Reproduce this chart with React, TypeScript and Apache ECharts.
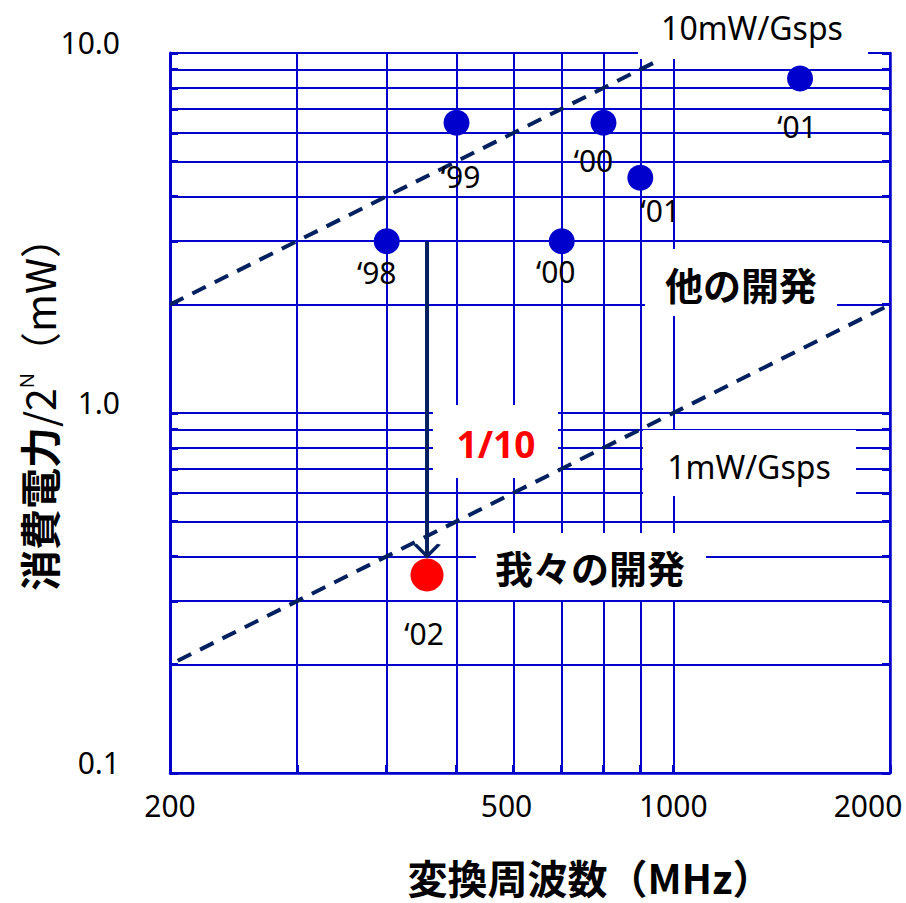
import React, { useEffect, useRef } from 'react';
import * as echarts from 'echarts';

// ---- data ----
const xGridValues = [200, 300, 400, 500, 600, 700, 800, 900, 1000, 2000];
const xLabelValues = [200, 500, 1000, 2000];
const yGridValues = [0.1, 0.2, 0.3, 0.4, 0.5, 0.6, 0.7, 0.8, 0.9, 1, 2, 3, 4, 5, 6, 7, 8, 9, 10];
const yLabelValues = [0.1, 1, 10];

const otherNames = ['‘98', '‘99', '‘00', '‘00', '‘01', '‘01'];
const otherFreq = [400, 500, 700, 800, 900, 1500];
const otherPower = [3.0, 6.4, 3.0, 6.4, 4.5, 8.5];

const oursNames = ['‘02'];
const oursFreq = [455];
const oursPower = [0.355];

const line10Freq = [200, 950];
const line10Power = [2.0, 9.5];
const line1Freq = [205, 2000];
const line1Power = [0.205, 2.0];
const arrowFreq = [455, 455];
const arrowPower = [3.0, 0.4];

// ---- styles (label offsets in px) ----
const otherLabelOffsets = [[-10, 31], [4, 54], [-6, 30], [-10, 38], [20, 33], [-3, 48]];
const oursLabelOffsets = [[-3, 59]];

const BLUE = '#0000CC';
const NAVY = '#002060';
const LATIN = '"Noto Sans", "Noto Sans CJK JP", sans-serif';
const CJK = '"Noto Sans CJK JP", "Noto Sans", sans-serif';

export default function App() {
  const ref = useRef<HTMLDivElement>(null);

  useEffect(() => {
    if (!ref.current) return;
    const chart = echarts.init(ref.current, undefined, { renderer: 'svg' });

    const tickLabel = { fontSize: 30, fontFamily: LATIN, color: '#000' };

    const option: any = {
      animation: false,
      backgroundColor: '#ffffff',
      grid: { left: 170, top: 53, width: 720, height: 720, containLabel: false, outerBoundsMode: 'none' },
      xAxis: {
        type: 'log',
        logBase: 10,
        min: 200,
        max: 2000,
        axisLine: { show: true, lineStyle: { color: BLUE, width: 2.5 } },
        axisTick: { show: true, inside: true, length: 8, customValues: xGridValues, lineStyle: { color: BLUE, width: 3 } },
        splitLine: { show: true, lineStyle: { color: BLUE, width: 2 } },
        minorTick: { show: false },
        minorSplitLine: { show: false },
        axisLabel: {
          customValues: xLabelValues,
          margin: 17,
          ...tickLabel,
          lineHeight: 30,
          formatter: (v: number) => (v === 500 ? '{r|500}' : v === 2000 ? '{l|2000}' : String(v)),
          rich: {
            r: { ...tickLabel, lineHeight: 30, padding: [0, 0, 0, 100] },
            l: { ...tickLabel, lineHeight: 30, padding: [0, 44, 0, 0] },
          },
        },
      },
      yAxis: [
        {
          type: 'log',
          logBase: 10,
          min: 0.1,
          max: 10,
          axisLine: { show: true, lineStyle: { color: BLUE, width: 3 } },
          axisTick: { show: true, inside: true, length: 8, customValues: yGridValues, lineStyle: { color: BLUE, width: 3 } },
          splitLine: { show: true, lineStyle: { color: BLUE, width: 2 } },
          minorTick: { show: false },
          minorSplitLine: { show: false },
          axisLabel: {
            customValues: yLabelValues,
            margin: 50,
            ...tickLabel,
            verticalAlign: 'bottom',
            lineHeight: 22,
            formatter: (v: number) => v.toFixed(1),
          },
        },
        {
          type: 'log',
          logBase: 10,
          min: 0.1,
          max: 10,
          position: 'right',
          axisLine: { show: true, lineStyle: { color: BLUE, width: 2.5 } },
          axisTick: { show: true, inside: true, length: 8, customValues: yGridValues, lineStyle: { color: BLUE, width: 3 } },
          splitLine: { show: false },
          axisLabel: { show: false },
        },
      ],
      graphic: [
        { type: 'rect', z: 1, shape: { x: 638, y: 0, width: 230, height: 59 }, style: { fill: '#fff' } },
        { type: 'rect', z: 1, shape: { x: 645, y: 249, width: 192, height: 67 }, style: { fill: '#fff' } },
        { type: 'rect', z: 1, shape: { x: 643, y: 430, width: 213, height: 66 }, style: { fill: '#fff' } },
        { type: 'rect', z: 1, shape: { x: 476, y: 533, width: 230, height: 67 }, style: { fill: '#fff' } },
        { type: 'rect', z: 1, shape: { x: 433, y: 405, width: 125, height: 73 }, style: { fill: '#fff' } },
        {
          type: 'text', z: 1, x: 38, y: 404, rotation: Math.PI / 2,
          style: {
            text: '{b|消費電力}{r|/2}{n|N}{r|（mW）}',
            align: 'center',
            verticalAlign: 'middle',
            fill: '#000',
            rich: {
              b: { fontSize: 41, fontWeight: 'bold', fontFamily: CJK, fill: '#000', lineHeight: 44 },
              r: { fontSize: 41, fontWeight: 'normal', fontFamily: CJK, fill: '#000', lineHeight: 44 },
              n: { fontSize: 20, fontWeight: 'normal', fontFamily: LATIN, fill: '#000', lineHeight: 20, verticalAlign: 'top' },
            },
          },
        },
        {
          type: 'text', z: 1, x: 590, y: 877,
          style: {
            text: '変換周波数（MHz）',
            fontSize: 40, fontWeight: 'bold', fontFamily: CJK, fill: '#000', lineHeight: 40,
            align: 'center', verticalAlign: 'middle',
          },
        },
        {
          type: 'text', z: 1, x: 752, y: 27,
          style: { text: '10mW/Gsps', fontSize: 32, fontFamily: LATIN, fill: '#000', align: 'center', verticalAlign: 'middle' },
        },
        {
          type: 'text', z: 1, x: 741, y: 283,
          style: { text: '他の開発', fontSize: 38, fontWeight: 'bold', fontFamily: CJK, fill: '#000', align: 'center', verticalAlign: 'middle' },
        },
        {
          type: 'text', z: 1, x: 749, y: 466,
          style: { text: '1mW/Gsps', fontSize: 32, fontFamily: LATIN, fill: '#000', align: 'center', verticalAlign: 'middle' },
        },
        {
          type: 'text', z: 1, x: 590, y: 566,
          style: { text: '我々の開発', fontSize: 38, fontWeight: 'bold', fontFamily: CJK, fill: '#000', align: 'center', verticalAlign: 'middle' },
        },
        {
          type: 'text', z: 1, x: 496, y: 443,
          style: { text: '1/10', fontSize: 37, fontWeight: 'bold', fontFamily: LATIN, fill: '#FF0000', align: 'center', verticalAlign: 'middle' },
        },
      ],
      series: [
        {
          name: '10mW/Gsps',
          type: 'line',
          z: 3,
          symbol: 'none',
          data: line10Freq.map((f, i) => [f, line10Power[i]]),
          lineStyle: { color: NAVY, width: 4, type: [15, 10] },
        },
        {
          name: '1mW/Gsps',
          type: 'line',
          z: 3,
          symbol: 'none',
          data: line1Freq.map((f, i) => [f, line1Power[i]]),
          lineStyle: { color: NAVY, width: 4, type: [15, 10] },
        },
        {
          name: 'arrow',
          type: 'line',
          z: 4,
          showSymbol: true,
          showAllSymbol: true,
          data: arrowFreq.map((f, i) =>
            i === 0
              ? { value: [f, arrowPower[i]], symbol: 'none' }
              : {
                  value: [f, arrowPower[i]],
                  symbol: 'path://M0,0L12,12L24,0',
                  symbolSize: [24, 12],
                  symbolOffset: [0, -6],
                  itemStyle: { color: 'rgba(0,0,0,0)', borderColor: NAVY, borderWidth: 3 },
                }
          ),
          lineStyle: { color: NAVY, width: 4 },
        },
        {
          name: '他の開発',
          type: 'scatter',
          z: 5,
          symbolSize: 26,
          itemStyle: { color: BLUE, opacity: 1 },
          label: { show: true, position: 'inside', formatter: '{b}', ...tickLabel },
          data: otherFreq.map((f, i) => ({
            name: otherNames[i],
            value: [f, otherPower[i]],
            label: { offset: otherLabelOffsets[i] },
          })),
        },
        {
          name: '我々の開発',
          type: 'scatter',
          z: 5,
          symbolSize: 33,
          itemStyle: { color: '#FF0000', opacity: 1 },
          label: { show: true, position: 'inside', formatter: '{b}', ...tickLabel },
          data: oursFreq.map((f, i) => ({
            name: oursNames[i],
            value: [f, oursPower[i]],
            label: { offset: oursLabelOffsets[i] },
          })),
        },
      ],
    };

    chart.setOption(option);
    return () => chart.dispose();
  }, []);

  return <div ref={ref} style={{ position: 'fixed', left: 0, top: 0, width: 906, height: 903, background: '#fff' }} />;
}
